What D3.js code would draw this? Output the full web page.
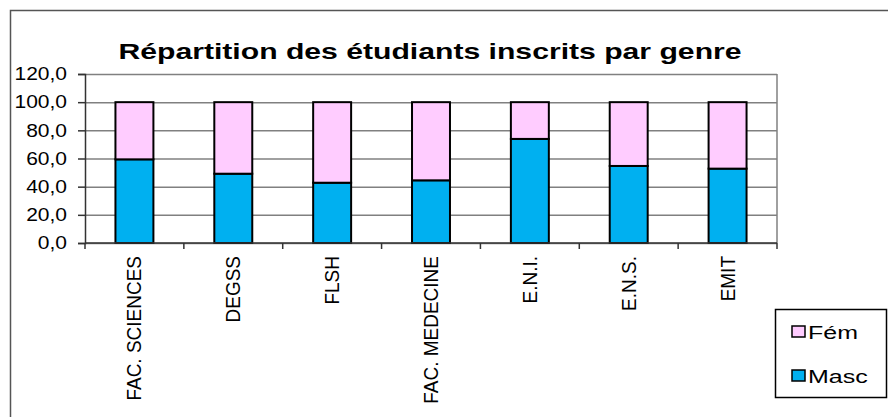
<!DOCTYPE html>
<html>
<head>
<meta charset="utf-8">
<script src="https://cdn.jsdelivr.net/npm/d3@7.9.0/dist/d3.min.js"></script>
<style>
  body { margin: 0; background: #fff; }
  svg { display: block; font-family: "Liberation Sans", Arial, sans-serif; }
</style>
</head>
<body>
<div id="chart"></div>
<script>
const categories = ['FAC. SCIENCES', 'DEGSS', 'FLSH', 'FAC. MEDECINE', 'E.N.I.', 'E.N.S.', 'EMIT'];
const masc = [59.4, 49.2, 42.8, 44.5, 73.9, 54.7, 52.8];
const fem = [40.6, 50.8, 57.2, 55.5, 26.1, 45.3, 47.2];
const seriesNames = ['Masc', 'Fém'];
const yTicks = [0, 20, 40, 60, 80, 100, 120];

const width = 888;
const height = 417;
const plot = { left: 85, right: 777, top: 74, bottom: 243 };
const colors = { 'Masc': '#00b0f0', 'Fém': '#ffccff' };

const rows = categories.map((c, i) => ({ cat: c, 'Masc': masc[i], 'Fém': fem[i] }));

const svg = d3.select('#chart')
  .append('svg')
  .attr('width', width)
  .attr('height', height);

// outer frame
svg.append('rect')
  .attr('x', 10.5).attr('y', 10.5)
  .attr('width', 900).attr('height', 500)
  .attr('fill', 'none')
  .attr('stroke', '#555')
  .attr('stroke-width', 1.5);

const x = d3.scaleBand()
  .domain(categories)
  .range([plot.left, plot.right])
  .paddingInner(0.616)
  .paddingOuter(0.308);

const y = d3.scaleLinear()
  .domain([0, 120])
  .range([plot.bottom, plot.top]);

const fr = d3.formatLocale({ decimal: ',', thousands: ' ', grouping: [3], currency: ['', ' €'] });
const fmt = fr.format('.1f');

// gridlines
svg.append('g')
  .attr('transform', `translate(${plot.left},0)`)
  .call(d3.axisLeft(y).tickValues(yTicks).tickFormat('').tickSize(-(plot.right - plot.left)))
  .call(g => g.select('.domain').remove())
  .call(g => g.selectAll('line').attr('stroke', '#808080').attr('stroke-width', 1.5));

// right border
svg.append('line')
  .attr('x1', plot.right).attr('x2', plot.right)
  .attr('y1', plot.top).attr('y2', plot.bottom)
  .attr('stroke', '#808080').attr('stroke-width', 1.5);

// bars
const stack = d3.stack().keys(seriesNames)(rows);
svg.append('g')
  .selectAll('g')
  .data(stack)
  .join('g')
  .attr('fill', d => colors[d.key])
  .selectAll('rect')
  .data(d => d)
  .join('rect')
  .attr('x', d => x(d.data.cat))
  .attr('y', d => y(d[1]))
  .attr('width', x.bandwidth())
  .attr('height', d => y(d[0]) - y(d[1]))
  .attr('stroke', '#000')
  .attr('stroke-width', 2);

// y axis
const yAxis = svg.append('g')
  .attr('transform', `translate(${plot.left},0)`)
  .call(d3.axisLeft(y).tickValues(yTicks).tickFormat('').tickSize(7));
yAxis.select('.domain').attr('stroke', '#333').attr('stroke-width', 1.5);
yAxis.selectAll('line').attr('stroke', '#333').attr('stroke-width', 1.5);

// y labels (slightly wide glyphs, like the original)
svg.append('g')
  .selectAll('text')
  .data(yTicks)
  .join('text')
  .attr('transform', d => `translate(67,${y(d)}) scale(1.2,1)`)
  .attr('text-anchor', 'end')
  .attr('dy', '0.36em')
  .style('font-size', '17.5px')
  .text(d => fmt(d));

// x axis line and boundary ticks
svg.append('line')
  .attr('x1', plot.left).attr('x2', plot.right)
  .attr('y1', plot.bottom).attr('y2', plot.bottom)
  .attr('stroke', '#333').attr('stroke-width', 1.5);

svg.append('g')
  .selectAll('line')
  .data(d3.range(categories.length + 1))
  .join('line')
  .attr('x1', i => plot.left + i * x.step())
  .attr('x2', i => plot.left + i * x.step())
  .attr('y1', plot.bottom)
  .attr('y2', plot.bottom + 6)
  .attr('stroke', '#333').attr('stroke-width', 1.5);

// category labels, rotated
svg.append('g')
  .selectAll('text')
  .data(categories)
  .join('text')
  .attr('transform', d => `translate(${x(d) + x.bandwidth() / 2 + 7},256) scale(1.08,1) rotate(-90)`)
  .attr('text-anchor', 'end')
  .style('font-size', '19px')
  .text(d => d);

// title
svg.append('text')
  .attr('transform', 'translate(430,59) scale(1.34,1)')
  .attr('text-anchor', 'middle')
  .style('font-size', '22.5px')
  .style('font-weight', 'bold')
  .text('Répartition des étudiants inscrits par genre');

// legend
const legend = svg.append('g');
legend.append('rect')
  .attr('x', 775.5).attr('y', 309.5)
  .attr('width', 111).attr('height', 88)
  .attr('fill', '#fff')
  .attr('stroke', '#000').attr('stroke-width', 1.5);

const legendItems = ['Fém', 'Masc'];
legend.selectAll('g.item')
  .data(legendItems)
  .join('g')
  .attr('class', 'item')
  .attr('transform', (d, i) => `translate(792,${326 + i * 44})`)
  .call(g => g.append('rect')
    .attr('width', 13).attr('height', 11)
    .attr('fill', d => colors[d])
    .attr('stroke', '#000').attr('stroke-width', 1.5))
  .call(g => g.append('text')
    .attr('transform', 'translate(16,12.5) scale(1.35,1)')
    .style('font-size', '18.5px')
    .text(d => d));
</script>
</body>
</html>
